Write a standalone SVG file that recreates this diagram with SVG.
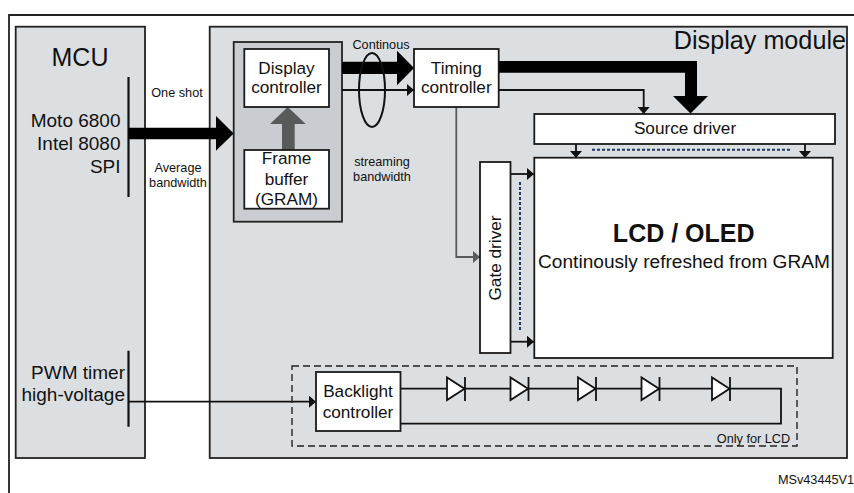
<svg xmlns="http://www.w3.org/2000/svg" width="854" height="493" viewBox="0 0 854 493">
<style>
text{font-family:"Liberation Sans",Arial,sans-serif;fill:#111}
.box{fill:#fff;stroke:#1a1a1a;stroke-width:1.8}
.panel{fill:#dcdfe2;stroke:#222;stroke-width:1.8}
.t17{font-size:17.2px;text-anchor:middle}
.t19{font-size:19px;text-anchor:end}
.t12{font-size:12.7px;text-anchor:middle}
.wire{fill:none;stroke:#111;stroke-width:1.8}
.dash{fill:none;stroke:#1f3864;stroke-width:2;stroke-dasharray:3 2}
.diode{fill:#fff;stroke:#111;stroke-width:1.8}
</style>
<defs>
<marker id="ah" markerUnits="userSpaceOnUse" markerWidth="8" markerHeight="13" refX="7" refY="6" orient="auto"><path d="M0 0L7 6L0 12Z" fill="#111"/></marker>
<marker id="ahg" markerUnits="userSpaceOnUse" markerWidth="8" markerHeight="13" refX="7" refY="6" orient="auto"><path d="M0 0L7 6L0 12Z" fill="#58595b"/></marker>
</defs>
<rect width="854" height="493" fill="#fff"/>
<path id="frame" d="M9 493V15H854" fill="none" stroke="#222" stroke-width="1.8"/>
<g id="mcu">
<rect class="panel" x="15.7" y="26.7" width="129.3" height="431.3"/>
<text x="80" y="66" font-size="25" text-anchor="middle">MCU</text>
<text class="t19" x="120.5" y="127">Moto 6800</text>
<text class="t19" x="120.5" y="150">Intel 8080</text>
<text class="t19" x="120.5" y="173">SPI</text>
<text class="t19" x="125" y="379">PWM timer</text>
<text class="t19" x="125" y="401">high-voltage</text>
<path d="M128.5 77V197M128.5 350.7V426.7" stroke="#111" stroke-width="2.2" fill="none"/>
</g>
<g id="display-module">
<rect class="panel" x="209.7" y="26.7" width="637.3" height="431.3"/>
<text x="846" y="49.3" font-size="25.2" text-anchor="end">Display module</text>
<rect x="233.7" y="42" width="108.3" height="179.7" fill="#c9cdd1" stroke="#222" stroke-width="1.8"/>
</g>
<g id="connectors">
<path id="bus-mcu" d="M128.5 127.7H216V116L233.7 133.5L216 150.7V139.3H128.5Z" fill="#000"/>
<path id="frame-to-display" d="M282 150V124H270L287.8 107L305.7 124H294.7V150Z" fill="#58595b"/>
<path id="bus-timing" d="M342 61.7H397V50.7L414 68L397 85.3V74H342Z" fill="#000"/>
<path class="wire" d="M342 90H414" marker-end="url(#ah)"/>
<ellipse cx="372" cy="90" rx="13" ry="37" fill="none" stroke="#111" stroke-width="2"/>
<path id="bus-source" d="M498 61H697V96H708L690.5 113.5L673 96H685V72.7H498Z" fill="#000"/>
<path class="wire" d="M498 90H643.7V114" marker-end="url(#ah)"/>
<path d="M456.3 107V257H480" fill="none" stroke="#58595b" stroke-width="1.8" marker-end="url(#ahg)"/>
<path class="wire" d="M576 144V158" marker-end="url(#ah)"/>
<path class="wire" d="M805 144V158" marker-end="url(#ah)"/>
<path class="dash" d="M592 149.7H792"/>
<path class="wire" d="M510.5 174H534" marker-end="url(#ah)"/>
<path class="wire" d="M510.5 341.7H534" marker-end="url(#ah)"/>
<path class="dash" d="M520 182V330"/>
<path class="wire" d="M128.5 401.7H316" marker-end="url(#ah)"/>
<path class="wire" d="M400.5 388.7H781V423.7H400.5"/>
</g>
<g id="display-controller">
<rect class="box" x="244.3" y="49" width="84.7" height="58"/>
<text class="t17" x="286.5" y="73.5">Display</text>
<text class="t17" x="286.5" y="93.3">controller</text>
</g>
<g id="frame-buffer">
<rect class="box" x="244.3" y="150" width="84.7" height="58.7"/>
<text class="t17" x="286.5" y="164">Frame</text>
<text class="t17" x="286.5" y="184.7">buffer</text>
<text class="t17" x="286.5" y="205">(GRAM)</text>
</g>
<g id="timing-controller">
<rect class="box" x="414" y="49" width="84.7" height="58"/>
<text class="t17" x="456.3" y="73.5">Timing</text>
<text class="t17" x="456.3" y="93">controller</text>
</g>
<g id="source-driver">
<rect class="box" x="534.3" y="114" width="300.7" height="30"/>
<text class="t17" x="685" y="134">Source driver</text>
</g>
<g id="gate-driver">
<rect class="box" x="480" y="162" width="30.5" height="191"/>
<text class="t17" transform="translate(500.7 258) rotate(-90)">Gate driver</text>
</g>
<g id="lcd-oled">
<rect class="box" x="534.3" y="157.7" width="298.4" height="200.3"/>
<text x="683.7" y="241.7" font-size="25" font-weight="700" text-anchor="middle">LCD / OLED</text>
<text x="684" y="268" font-size="19.1" text-anchor="middle">Continously refreshed from GRAM</text>
</g>
<g id="backlight-group">
<rect x="292" y="366" width="505" height="80" fill="none" stroke="#222" stroke-width="1.4" stroke-dasharray="7 4"/>
<text class="t12" x="753.5" y="442.7">Only for LCD</text>
</g>
<g id="backlight-controller">
<rect class="box" x="316" y="372" width="84.5" height="59"/>
<text class="t17" x="358" y="397">Backlight</text>
<text class="t17" x="358" y="417.5">controller</text>
</g>
<g id="diodes">
<path class="diode" d="M447 377.5V400L464.5 388.7ZM465 377V401"/>
<path class="diode" d="M510.5 377.5V400L528 388.7ZM528.5 377V401"/>
<path class="diode" d="M578 377.5V400L595.5 388.7ZM596 377V401"/>
<path class="diode" d="M641.5 377.5V400L659 388.7ZM659.5 377V401"/>
<path class="diode" d="M712 377.5V400L729.5 388.7ZM730 377V401"/>
</g>
<g id="labels">
<text class="t12" x="177" y="97">One shot</text>
<text class="t12" x="178" y="171.7">Average</text>
<text class="t12" x="178" y="186.7">bandwidth</text>
<text class="t12" x="381" y="49">Continous</text>
<text class="t12" x="382" y="165.7">streaming</text>
<text class="t12" x="382" y="181">bandwidth</text>
<text class="t12" x="816" y="484">MSv43445V1</text>
</g>
</svg>
